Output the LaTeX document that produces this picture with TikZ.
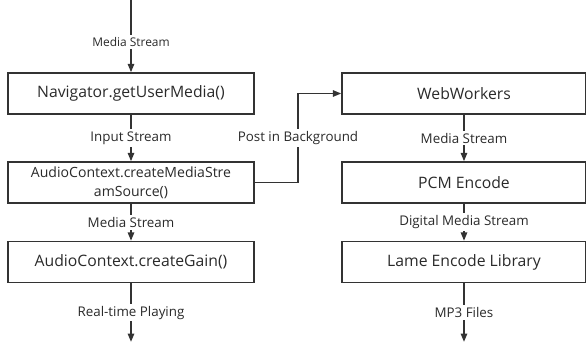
\documentclass[tikz,border=0pt]{standalone}
\usepackage{fontspec}
\setmainfont{Open Sans}
\usetikzlibrary{arrows.meta, positioning, calc}
\definecolor{flowline}{HTML}{333333}
\definecolor{flowtext}{HTML}{2A2A2A}

\tikzset{
  stagebox/.style={draw=flowline, line width=1pt, minimum width=6.15cm, minimum height=1.025cm,
    inner sep=1pt, align=center, text=flowtext, font=\fontsize{11.2}{13}\selectfont},
  flowarrow/.style={draw=flowline, line width=1.3pt, -{Triangle[length=6pt, width=4.5pt]}},
  flowlabel/.style={fill=white, inner sep=1.5pt, text=flowtext, font=\fontsize{9.5}{9.5}\selectfont}
}

\begin{document}
\begin{tikzpicture}
  \useasboundingbox (0,0) rectangle (14.65,-8.65);

  % Capture chain (left column)
  \coordinate (micin) at (3.275,0);
  \node[stagebox] (navigator) at (3.275,-2.3375) {Navigator.getUserMedia()};
  \node[stagebox, font=\fontsize{10}{13.5}\selectfont] (source) at (3.275,-4.5625) {AudioContext.createMediaStre\\amSource()};
  \node[stagebox] (gain) at (3.275,-6.55) {AudioContext.createGain()};
  \coordinate (playout) at (3.275,-8.55);

  % Encoding chain (right column)
  \node[stagebox, minimum width=6.1cm] (workers) at (11.6,-2.3375) {WebWorkers};
  \node[stagebox, minimum width=6.1cm] (pcm) at (11.6,-4.5625) {PCM Encode};
  \node[stagebox, minimum width=6.1cm] (lame) at (11.6,-6.55) {Lame Encode Library};
  \coordinate (mp3out) at (11.6,-8.55);

  % Left arrows
  \draw[flowarrow] (micin) -- node[flowlabel, pos=0.58, font=\fontsize{8.5}{8.5}\selectfont] {Media Stream} (navigator);
  \draw[flowarrow] (navigator) -- node[flowlabel] {Input Stream} (source);
  \draw[flowarrow] (source) -- node[flowlabel] {Media Stream} (gain);
  \draw[flowarrow] (gain) -- node[flowlabel] {Real-time Playing} (playout);

  % Hand-off to the worker
  \draw[flowarrow] (source.east) -| node[flowlabel, pos=0.75] {Post in Background} (7.45,-2.3375) -- (workers.west);

  % Right arrows
  \draw[flowarrow] (workers) -- node[flowlabel] {Media Stream} (pcm);
  \draw[flowarrow] (pcm) -- node[flowlabel] {Digital Media Stream} (lame);
  \draw[flowarrow] (lame) -- node[flowlabel] {MP3 Files} (mp3out);
\end{tikzpicture}
\end{document}
